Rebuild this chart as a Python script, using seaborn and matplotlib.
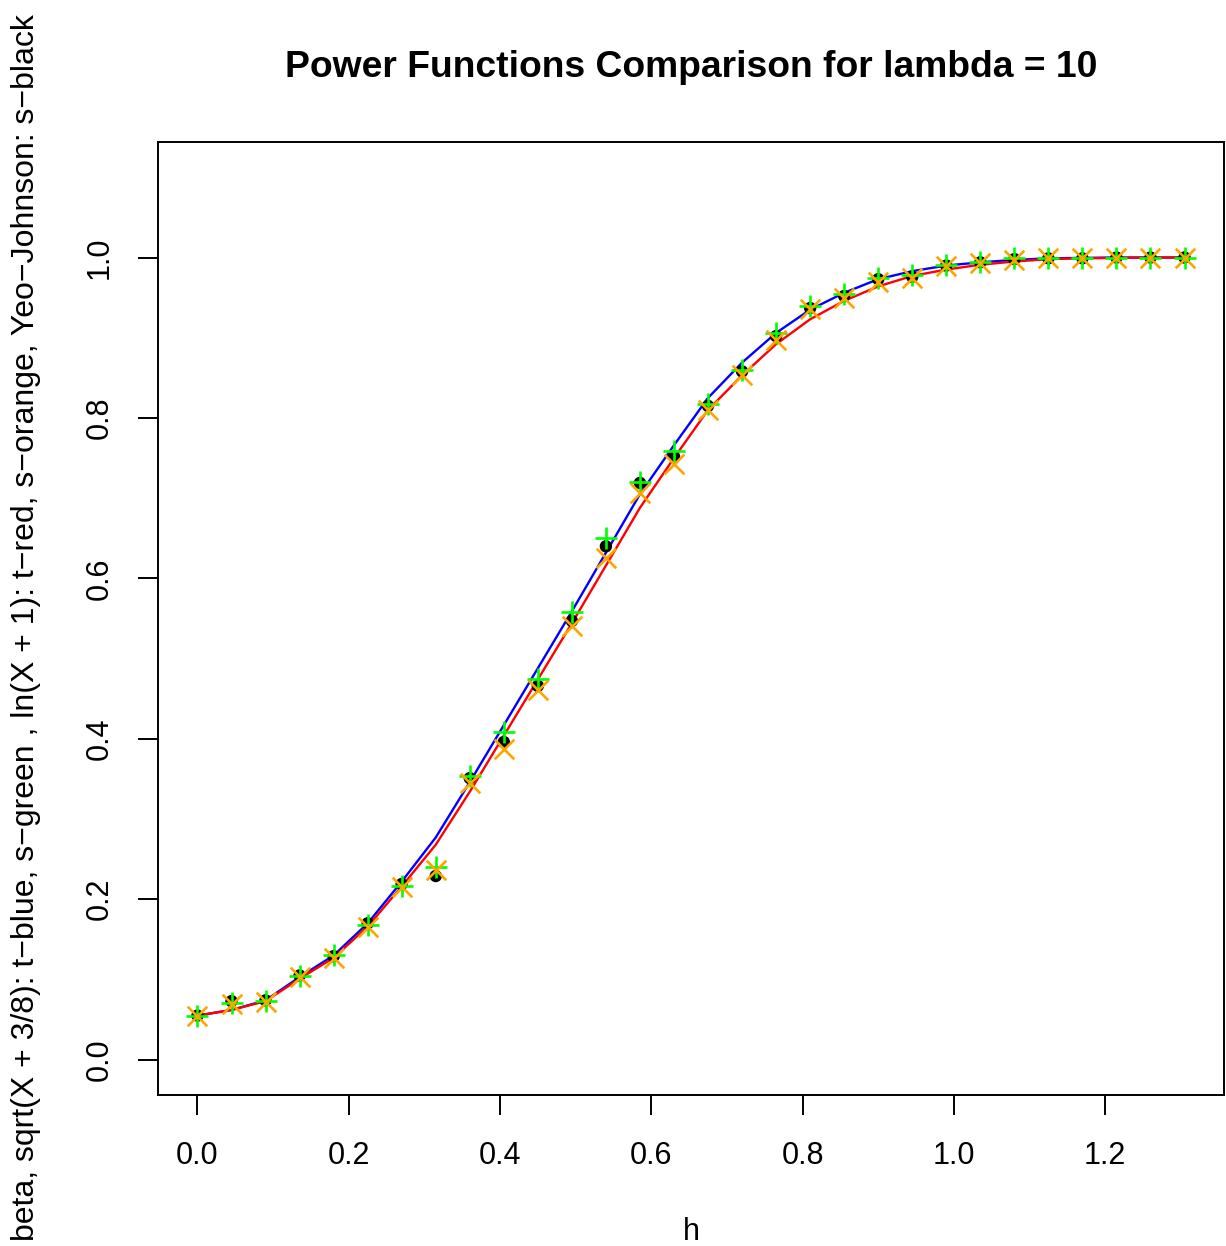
import matplotlib
matplotlib.use("Agg")
import matplotlib.pyplot as plt
import seaborn as sns
import pandas as pd

# ---- data ----
h = [0.0, 0.045, 0.09, 0.135, 0.18, 0.225, 0.27, 0.315, 0.36, 0.405,
     0.45, 0.495, 0.54, 0.585, 0.63, 0.675, 0.72, 0.765, 0.81, 0.855,
     0.9, 0.945, 0.99, 1.035, 1.08, 1.125, 1.17, 1.215, 1.26, 1.305]

t_blue = [0.055, 0.062, 0.074, 0.103, 0.130, 0.170, 0.222, 0.277, 0.346, 0.417,
          0.488, 0.559, 0.632, 0.705, 0.766, 0.825, 0.869, 0.906, 0.935, 0.956,
          0.973, 0.983, 0.990, 0.994, 0.997, 0.999, 0.9995, 1.0, 1.0, 1.0]

t_red = [0.055, 0.062, 0.073, 0.101, 0.127, 0.166, 0.216, 0.268, 0.334, 0.404,
         0.474, 0.544, 0.616, 0.688, 0.750, 0.810, 0.853, 0.892, 0.923, 0.946,
         0.964, 0.977, 0.985, 0.991, 0.995, 0.998, 0.999, 0.9995, 1.0, 1.0]

s_green = [0.055, 0.071, 0.073, 0.104, 0.130, 0.168, 0.217, 0.240, 0.354, 0.409,
           0.475, 0.558, 0.650, 0.720, 0.759, 0.818, 0.860, 0.906, 0.939, 0.955,
           0.975, 0.978, 0.991, 0.995, 0.999, 0.999, 1.0, 1.0, 1.0, 1.0]

s_black = [0.055, 0.073, 0.074, 0.105, 0.129, 0.170, 0.219, 0.229, 0.351, 0.396,
           0.466, 0.547, 0.640, 0.719, 0.752, 0.815, 0.858, 0.902, 0.937, 0.952,
           0.973, 0.976, 0.990, 0.994, 0.998, 0.999, 0.999, 1.0, 1.0, 1.0]

s_orange = [0.055, 0.070, 0.072, 0.103, 0.127, 0.166, 0.215, 0.236, 0.345, 0.387,
            0.461, 0.541, 0.626, 0.707, 0.743, 0.810, 0.854, 0.897, 0.936, 0.950,
            0.970, 0.974, 0.989, 0.993, 0.997, 0.999, 0.999, 1.0, 1.0, 1.0]

x_ticks = [0.0, 0.2, 0.4, 0.6, 0.8, 1.0, 1.2]
y_ticks = [0.0, 0.2, 0.4, 0.6, 0.8, 1.0]

title = "Power Functions Comparison for lambda = 10"
xlab = "h"
ylab = ("beta, sqrt(X + 3/8): t\u2212blue, s\u2212green , ln(X + 1): t\u2212red, "
        "s\u2212orange, Yeo\u2212Johnson: s\u2212black")

df = pd.DataFrame({"h": h, "t_blue": t_blue, "t_red": t_red,
                   "s_green": s_green, "s_black": s_black, "s_orange": s_orange})

sns.set_theme(style="white")
plt.rcParams["font.family"] = ["Liberation Sans", "DejaVu Sans"]

W, H = 1226, 1246
fig = plt.figure(figsize=(W / 100, H / 100), dpi=100)
fig.patch.set_facecolor("white")
L, R, T, B = 158, 1224, 142, 1095
ax = fig.add_axes([L / W, 1 - B / H, (R - L) / W, (B - T) / H])
ax.set_facecolor("white")

sns.lineplot(data=df, x="h", y="t_blue", color="#0000FF", lw=1.7, ax=ax, sort=False, estimator=None)
sns.lineplot(data=df, x="h", y="t_red", color="#FF0000", lw=1.7, ax=ax, sort=False, estimator=None)
sns.scatterplot(data=df, x="h", y="s_black", color="black", marker="o", s=80,
                edgecolor="none", ax=ax, zorder=3)
sns.scatterplot(data=df, x="h", y="s_green", color="#00FF00", marker="+", s=270,
                linewidth=1.9, ax=ax, zorder=4)
sns.scatterplot(data=df, x="h", y="s_orange", color="#FFA500", marker="x", s=200,
                linewidth=1.9, ax=ax, zorder=5)

ax.set_xlim(-0.0522, 1.3572)
ax.set_ylim(-0.044, 1.144)
ax.set_xticks(x_ticks)
ax.set_xticklabels([f"{v:.1f}" for v in x_ticks])
ax.set_yticks(y_ticks)
ax.set_yticklabels([f"{v:.1f}" for v in y_ticks], rotation=90, va="center")

for s in ax.spines.values():
    s.set_visible(True)
    s.set_color("black")
    s.set_linewidth(1.4)

ax.tick_params(axis="both", direction="out", length=14.4, width=1.4, colors="black",
               labelsize=22, bottom=True, left=True, top=False, right=False)
ax.tick_params(axis="x", pad=19)
ax.tick_params(axis="y", pad=17)

ax.set_xlabel(xlab, fontsize=22, color="black")
ax.xaxis.set_label_coords(0.5, -0.128)
ax.set_ylabel(ylab, fontsize=23, color="black")
ax.yaxis.set_label_coords(-0.11, 0.49)

ax.set_title(title, fontsize=26.8, fontweight="bold", color="black", pad=47)

fig.savefig("out.png", dpi=100, facecolor="white")
